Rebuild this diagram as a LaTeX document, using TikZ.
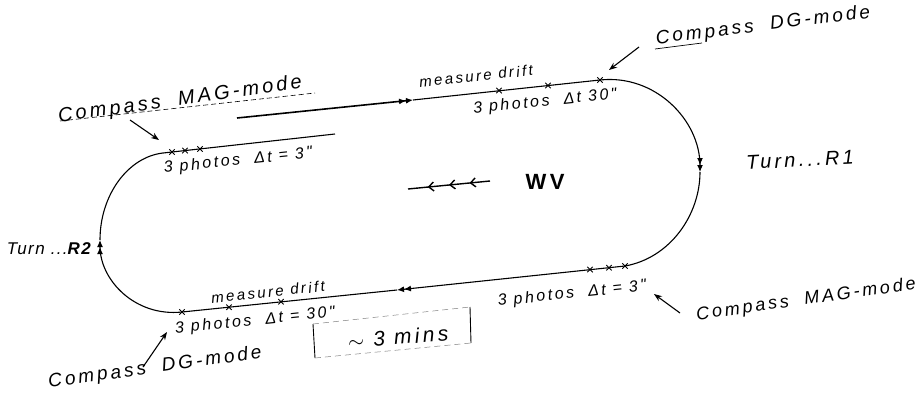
\documentclass[tikz,border=0pt]{standalone}
\usepackage{fontspec}
\newfontfamily\hw{Liberation Sans}[LetterSpace=16]
\newfontfamily\hwn{Liberation Sans}[LetterSpace=8]
\usetikzlibrary{arrows.meta,decorations.markings,shapes.misc}
\newcommand\fs[1]{\fontsize{#1}{#1}\selectfont}
\begin{document}
\begin{tikzpicture}[x=1pt,y=-1pt,
  track/.style={line width=1.1pt},
  lbl/.style={font=\hw\itshape, inner sep=0pt, anchor=center},
  ptr/.style={line width=1.1pt,-{Stealth[length=8pt,width=6pt]}},
  xmark/.style={cross out, draw, line width=0.9pt, minimum size=4.5pt, inner sep=0pt},
  dbl/.style={-{Latex[length=7pt,width=6pt]Latex[length=7pt,width=6pt]}},
  uline/.style={line width=0.6pt, dash pattern=on 5pt off 3pt},
  boxside/.style={line width=0.9pt},
  boxdash/.style={line width=0.5pt, dash pattern=on 6pt off 4pt, gray}
]
\useasboundingbox (0,0) rectangle (924,407);
% track coordinates
\coordinate (A) at (163,153);
\coordinate (B) at (335,134);
\coordinate (C) at (237,118);
\coordinate (M1) at (413,100);
\coordinate (D) at (600,80);
\coordinate (R) at (700,172);
\coordinate (E) at (625,266);
\coordinate (M2) at (397,290);
\coordinate (F) at (182,312);
\coordinate (L) at (100,240);
% track
\draw[track] (A) -- (B);
\draw[track,line width=1.6pt,dbl] (C) -- (M1);
\draw[track] (M1) -- (D);
\draw[track,dbl] (D) .. controls (655,74) and (700,120) .. (R);
\draw[track] (R) .. controls (700,215) and (670,258) .. (E);
\draw[track,dbl] (E) -- (M2);
\draw[track] (M2) -- (F);
\draw[track,dbl] (F) .. controls (135,317) and (100,280) .. (L);
\draw[track] (L) .. controls (100,195) and (128,157) .. (A);
% photo marks
\node[xmark] (x1) at (172,152) {};
\node[xmark] (x2) at (185,150.6) {};
\node[xmark] (x3) at (200,148.9) {};
\node[xmark] (x4) at (499,90.6) {};
\node[xmark] (x5) at (548,85.5) {};
\node[xmark] (x6) at (600,80) {};
\node[xmark] (x7) at (590,269.6) {};
\node[xmark] (x8) at (609,267.7) {};
\node[xmark] (x9) at (625,266) {};
\node[xmark] (x10) at (182,312) {};
\node[xmark] (x11) at (229,307.2) {};
\node[xmark] (x12) at (281,301.7) {};
% wind arrow
\coordinate (w1) at (490,181);
\coordinate (w2) at (408,189);
\draw[line width=1.4pt, decoration={markings,
  mark=at position 0.25 with {\arrow{Straight Barb[length=5pt,width=9pt]}},
  mark=at position 0.50 with {\arrow{Straight Barb[length=5pt,width=9pt]}},
  mark=at position 0.76 with {\arrow{Straight Barb[length=5pt,width=9pt]}}},
  postaction=decorate] (w1) -- (w2);
\node[font=\hw\bfseries\fs{22}, inner sep=0pt] (wv) at (545,182) {WV};
% labels
\node[lbl,rotate=8] (magTL) at (180,100) {\fs{20}Compass\ \ MAG-mode};
\node[lbl,rotate=6] (ph1) at (238,161) {\fs{16}3 photos\ \ Δt = 3"};
\node[lbl,rotate=6] (md1) at (476,76) {\fs{15}measure drift};
\node[lbl,rotate=6] (ph2) at (545,102) {\fs{16}3 photos\ \ Δt 30"};
\node[lbl,rotate=7] (dgTR) at (763,26) {\fs{19}Compass\ \ DG-mode};
\node[lbl,rotate=3] (r1) at (800,160) {\fs{20}Turn...R1};
\node[lbl,anchor=east,font=\hwn\itshape] (r2) at (91,249) {\fs{17}Turn ...\textbf{R2}};
\node[lbl,rotate=6] (md2) at (268,292) {\fs{15}measure drift};
\node[lbl,rotate=6] (ph3) at (255,321) {\fs{16}3 photos\ \ Δt = 30"};
\node[lbl,rotate=5] (mins) at (398,337) {\fs{21}$\sim$ 3 mins};
\node[lbl,rotate=6] (ph4) at (572,294) {\fs{16}3 photos\ \ Δt = 3"};
\node[lbl,rotate=8] (magR) at (806,300) {\fs{18}Compass\ \ MAG-mode};
\node[lbl,rotate=8] (dgBL) at (155,368) {\fs{19}Compass\hspace{16pt}DG-mode};
% underlines
\coordinate (u1a) at (60,121);
\coordinate (u1b) at (315,93);
\draw[uline] (u1a) -- (u1b);
\coordinate (u2a) at (655,49);
\coordinate (u2b) at (702,43);
\draw[line width=0.7pt] (u2a) -- (u2b);
% pointers
\coordinate (p1s) at (130,120); \coordinate (p1e) at (159,140);
\draw[ptr] (p1s) -- (p1e);
\coordinate (p2s) at (639,47); \coordinate (p2e) at (609,70);
\draw[ptr] (p2s) -- (p2e);
\coordinate (p3s) at (680,313); \coordinate (p3e) at (654,294);
\draw[ptr] (p3s) -- (p3e);
\coordinate (p4s) at (143,367); \coordinate (p4e) at (167,332);
\draw[ptr] (p4s) -- (p4e);
% time box
\coordinate (bTL) at (313,324);
\coordinate (bTR) at (470,307);
\coordinate (bBR) at (471,343);
\coordinate (bBL) at (315,358);
\draw[boxside] (bTL) -- (bBL);
\draw[boxside] (bTR) -- (bBR);
\draw[boxdash] (bTL) -- (bTR);
\draw[boxdash] (bBL) -- (bBR);
\end{tikzpicture}
\end{document}
